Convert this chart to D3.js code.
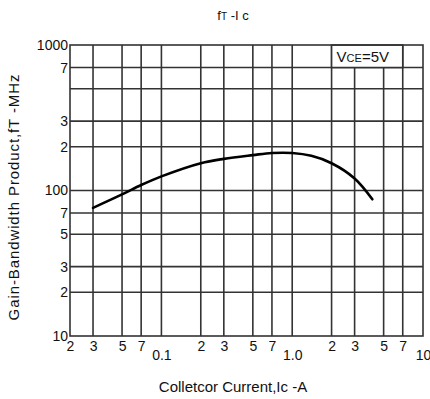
<!DOCTYPE html>
<html>
<head>
<meta charset="utf-8">
<script src="https://cdn.jsdelivr.net/npm/d3@7/dist/d3.min.js"></script>
<style>
  html, body { margin: 0; padding: 0; background: #fff; }
  svg { display: block; font-family: "Liberation Sans", Arial, sans-serif; }
</style>
</head>
<body>
<div id="chart"></div>
<script>
// fT vs Ic curve (VCE = 5 V)
const collectorCurrentA = [0.03, 0.05, 0.07, 0.1, 0.2, 0.3, 0.5, 0.7, 1.0, 1.4, 2, 3, 4.1];
const gainBandwidthMHz  = [76, 94, 109, 125, 154, 165, 175, 181, 181, 173, 154, 121, 87];

// grid lines
const xGridValues = [0.03, 0.05, 0.07, 0.1, 0.2, 0.3, 0.5, 0.7, 1, 2, 3, 5, 7];
const yGridValues = [20, 30, 50, 70, 100, 200, 300, 500, 700];

// tick labels
const xMinorTickValues = [0.02, 0.03, 0.05, 0.07, 0.2, 0.3, 0.5, 0.7, 2, 3, 5, 7];
const xMinorTickLabels = ["2", "3", "5", "7", "2", "3", "5", "7", "2", "3", "5", "7"];
const xDecadeTickValues = [0.1, 1, 10];
const xDecadeTickLabels = ["0.1", "1.0", "10"];
const yTickValues = [10, 20, 30, 50, 70, 100, 200, 300, 700, 1000];
const yTickLabels = ["10", "2", "3", "5", "7", "100", "2", "3", "7", "1000"];

const W = 430, H = 399;
const margin = { left: 70, right: 7, top: 45, bottom: 63 };

const svg = d3.select("#chart").append("svg")
  .attr("width", W).attr("height", H);

const x = d3.scaleLog().domain([0.02, 10]).range([margin.left, W - margin.right]);
const y = d3.scaleLog().domain([10, 1000]).range([H - margin.bottom, margin.top]);

const gridColor = "#333";
const gridWidth = 1.6;
const textColor = "#111";
const font = "'Liberation Sans', Arial, sans-serif";

// vertical grid
svg.append("g")
  .selectAll("line").data(xGridValues).join("line")
  .attr("x1", d => x(d)).attr("x2", d => x(d))
  .attr("y1", y(10)).attr("y2", y(1000))
  .attr("stroke", gridColor).attr("stroke-width", gridWidth);

// horizontal grid
svg.append("g")
  .selectAll("line").data(yGridValues).join("line")
  .attr("x1", x(0.02)).attr("x2", x(10))
  .attr("y1", d => y(d)).attr("y2", d => y(d))
  .attr("stroke", gridColor).attr("stroke-width", gridWidth);

// condition box in the top-right cell
svg.append("rect")
  .attr("x", x(2)).attr("y", y(1000))
  .attr("width", x(7) - x(2)).attr("height", y(700) - y(1000))
  .attr("fill", "#fff").attr("stroke", gridColor).attr("stroke-width", gridWidth);

const cond = svg.append("text")
  .attr("x", x(2) + 5).attr("y", (y(1000) + y(700)) / 2 + 5.5)
  .attr("font-size", 15).attr("fill", textColor);
cond.append("tspan").text("V");
cond.append("tspan").attr("font-size", 11).text("CE");
cond.append("tspan").text("=5V");

// plot frame
svg.append("rect")
  .attr("x", x(0.02)).attr("y", y(1000))
  .attr("width", x(10) - x(0.02)).attr("height", y(10) - y(1000))
  .attr("fill", "none").attr("stroke", gridColor).attr("stroke-width", gridWidth);

// curve
const pts = collectorCurrentA.map((c, i) => [c, gainBandwidthMHz[i]]);
svg.append("path")
  .datum(pts)
  .attr("fill", "none").attr("stroke", "#000").attr("stroke-width", 2.6)
  .attr("stroke-linecap", "round")
  .attr("d", d3.line().x(d => x(d[0])).y(d => y(d[1])).curve(d3.curveCatmullRom.alpha(0.5)));

// axes (labels only)
const styleTicks = g => {
  g.select(".domain").remove();
  g.selectAll("text").attr("font-size", 14).attr("fill", textColor).attr("font-family", font);
};

svg.append("g").attr("transform", `translate(${x(0.02)},0)`)
  .call(d3.axisLeft(y).tickValues(yTickValues)
    .tickFormat((d, i) => yTickLabels[i]).tickSize(0).tickPadding(2))
  .call(styleTicks);

svg.append("g").attr("transform", `translate(0,${y(10)})`)
  .call(d3.axisBottom(x).tickValues(xMinorTickValues)
    .tickFormat((d, i) => xMinorTickLabels[i]).tickSize(0).tickPadding(5))
  .call(styleTicks);

svg.append("g").attr("transform", `translate(0,${y(10)})`)
  .call(d3.axisBottom(x).tickValues(xDecadeTickValues)
    .tickFormat((d, i) => xDecadeTickLabels[i]).tickSize(0).tickPadding(14))
  .call(styleTicks);

// title
const title = svg.append("text")
  .attr("x", 233).attr("y", 20).attr("text-anchor", "middle")
  .attr("font-size", 13).attr("fill", textColor);
title.append("tspan").text("f");
title.append("tspan").attr("font-size", 10).text("T");
title.append("tspan").text(" -I c");

// axis titles
svg.append("text")
  .attr("x", 233).attr("y", 392).attr("text-anchor", "middle")
  .attr("font-size", 15).attr("fill", textColor)
  .text("Colletcor Current,Ic -A");

svg.append("text")
  .attr("transform", `translate(19,197) rotate(-90)`)
  .attr("text-anchor", "middle")
  .attr("font-size", 15).attr("letter-spacing", 0.9).attr("fill", textColor)
  .text("Gain-Bandwidth Product,fT -MHz");
</script>
</body>
</html>
